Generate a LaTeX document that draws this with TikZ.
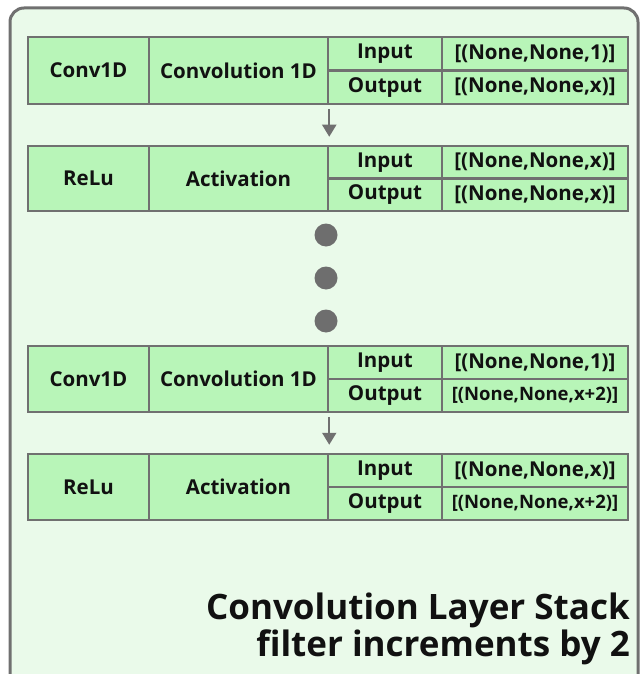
\documentclass[tikz,border=0pt]{standalone}
\usepackage{fontspec}
\setmainfont{Open Sans}
\usetikzlibrary{arrows.meta}

\definecolor{panelbg}{HTML}{EAFAEA}
\definecolor{cellfill}{HTML}{B8F5B8}
\definecolor{edgegray}{HTML}{707070}
\definecolor{dotgray}{HTML}{6E6E6E}
\definecolor{inkblack}{HTML}{111111}

\tikzset{
  cell/.style={draw=edgegray, line width=2.5pt, fill=cellfill, inner sep=0pt,
    text=inkblack, font=\bfseries\fontsize{20.5}{22}\selectfont},
  smallval/.style={font=\bfseries\fontsize{18.5}{20}\selectfont},
  flow/.style={draw=edgegray, line width=2pt,
    -{Triangle[width=14pt,length=12pt]}, shorten <=4pt, shorten >=8pt},
  dotmark/.style={circle, fill=dotgray, minimum size=23pt, inner sep=0pt},
  heading/.style={align=right, text=inkblack, inner sep=0pt,
    font=\bfseries\fontsize{35}{37}\selectfont}
}

% one cell from its corners: name, x1, y1, x2, y2, options, text
\newcommand\laycell[7]{%
  \node[cell, #6, minimum width={#4-#2}, minimum height={#5-#3}]
    (#1) at ({(#2+#4)/2},{(#3+#5)/2}) {#7};}

% one layer row: prefix, top, bottom, name, type, input, output, output style
\newcommand\layrow[8]{%
  \pgfmathsetmacro\rowmid{(#2+#3)/2}%
  \laycell{#1n}{28}{#2}{149}{#3}{}{#4}%
  \laycell{#1t}{149}{#2}{328}{#3}{}{#5}%
  \laycell{#1il}{328}{#2}{442}{\rowmid}{}{Input}%
  \laycell{#1iv}{442}{#2}{628}{\rowmid}{}{#6}%
  \laycell{#1ol}{328}{\rowmid}{442}{#3}{}{Output}%
  \laycell{#1ov}{442}{\rowmid}{628}{#3}{#8}{#7}%
}

\begin{document}
\begin{tikzpicture}[x=1pt, y=-1pt]
\useasboundingbox (0,0) rectangle (640,674);

% panel, open at the bottom
\draw[edgegray, line width=3pt, fill=panelbg, rounded corners=14pt]
  (10,700) -- (10,8) -- (638,8) -- (638,700);

\layrow{ra}{37}{104}{Conv1D}{Convolution 1D}{[(None,None,1)]}{[(None,None,x)]}{}
\layrow{rb}{146}{211}{ReLu}{Activation}{[(None,None,x)]}{[(None,None,x)]}{}
\layrow{rc}{346}{412}{Conv1D}{Convolution 1D}{[(None,None,1)]}{[(None,None,x+2)]}{smallval}
\layrow{rd}{454}{520}{ReLu}{Activation}{[(None,None,x)]}{[(None,None,x+2)]}{smallval}

\draw[flow] (rat.south east) -- (rbt.north east);
\draw[flow] (rct.south east) -- (rdt.north east);

\node[dotmark] (dota) at (326,235) {};
\node[dotmark] (dotb) at (326,278) {};
\node[dotmark] (dotc) at (326,321) {};

\node[heading, anchor=north east] (title) at (630,593)
  {Convolution Layer Stack\\filter increments by 2};
\end{tikzpicture}
\end{document}
